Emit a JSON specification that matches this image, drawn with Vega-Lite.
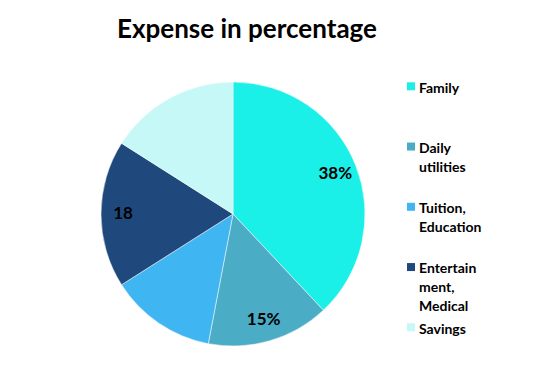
{
  "$schema": "https://vega.github.io/schema/vega-lite/v6.json",
  "autosize": "none",
  "width": 266,
  "height": 266,
  "padding": {"left": 100, "top": 81, "right": 180, "bottom": 27},
  "background": "#ffffff",
  "config": {
    "view": {"stroke": null},
    "style": {"guide-label": {"lineHeight": 19}}
  },
  "title": {
    "text": "Expense in percentage",
    "font": "Lato",
    "fontSize": 26,
    "fontWeight": "bold",
    "color": "#000000",
    "anchor": "middle",
    "dx": 14,
    "offset": 32
  },
  "data": {
    "values": [
      {"category": "Family", "idx": 1, "value": 38, "label": "38%"},
      {"category": "Daily utilities", "idx": 2, "value": 15, "label": "15%"},
      {"category": "Tuition, Education", "idx": 3, "value": 13, "label": ""},
      {"category": "Entertainment, Medical", "idx": 4, "value": 18, "label": "18"},
      {"category": "Savings", "idx": 5, "value": 16, "label": ""}
    ]
  },
  "encoding": {
    "theta": {"field": "value", "type": "quantitative", "stack": true},
    "order": {"field": "idx", "type": "quantitative"}
  },
  "layer": [
    {
      "mark": {"type": "arc", "outerRadius": 132, "stroke": "#ffffff", "strokeWidth": 0.5},
      "encoding": {
        "color": {
          "field": "category",
          "type": "nominal",
          "scale": {
            "domain": ["Family", "Daily utilities", "Tuition, Education", "Entertainment, Medical", "Savings"],
            "range": ["#1AF0E8", "#4BACC6", "#3FB5F2", "#1F497D", "#C5F8F6"]
          },
          "legend": {
            "title": null,
            "orient": "none",
            "legendX": 304,
            "legendY": -6.5,
            "symbolType": "M-1,0.2H1V2.2H-1Z",
            "symbolSize": 64,
            "symbolStrokeWidth": 0,
            "labelFont": "Lato",
            "labelFontSize": 14,
            "labelFontWeight": "bold",
            "labelColor": "#000000",
            "labelBaseline": "top",
            "labelLimit": 200,
            "labelOffset": 1,
            "rowPadding": 1.25,
            "labelExpr": "datum.value == 'Family' ? ['Family', '', ''] : datum.value == 'Daily utilities' ? ['Daily', 'utilities', ''] : datum.value == 'Tuition, Education' ? ['Tuition,', 'Education', ''] : datum.value == 'Entertainment, Medical' ? ['Entertain', 'ment,', 'Medical'] : datum.value"
          }
        }
      }
    },
    {
      "mark": {"type": "text", "radius": 110, "font": "Lato", "fontSize": 17, "fontWeight": "bold", "color": "#000000"},
      "encoding": {
        "text": {"field": "label", "type": "nominal"}
      }
    }
  ]
}
